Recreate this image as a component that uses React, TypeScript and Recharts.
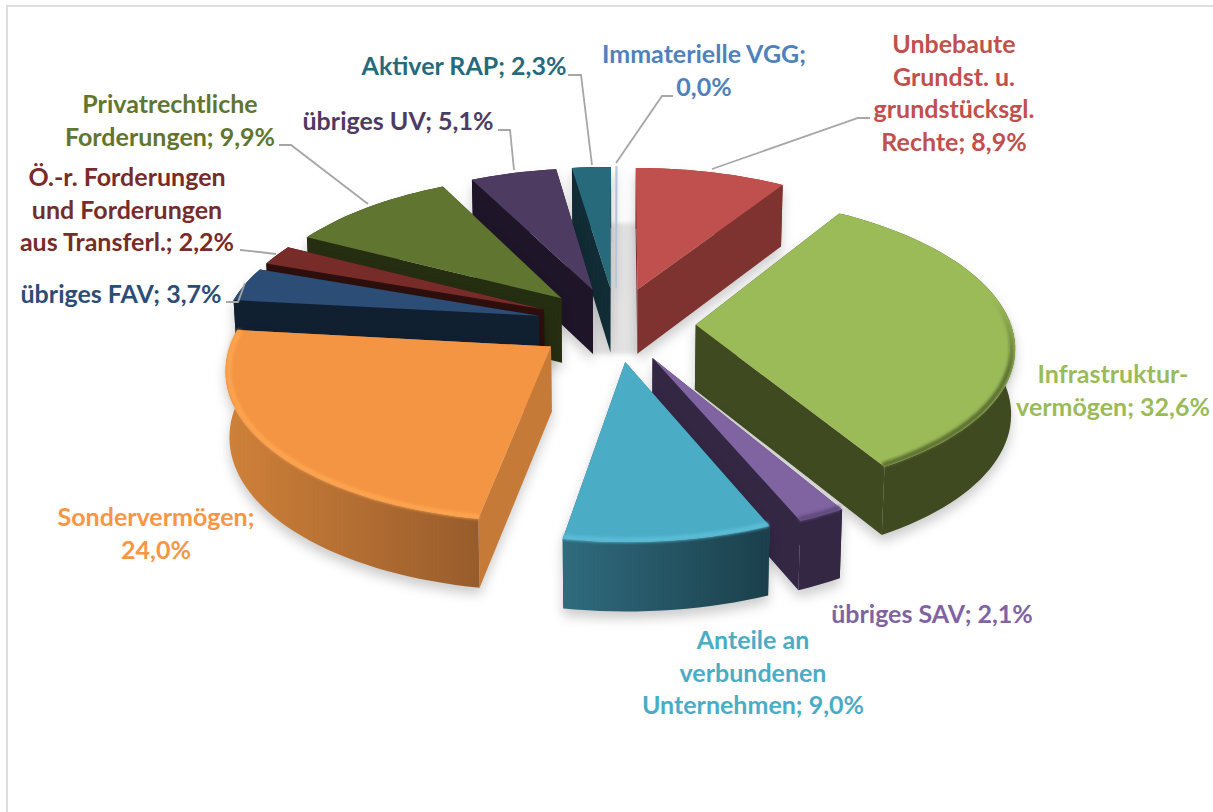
import React from 'react';
import { PieChart, Pie } from 'recharts';

// Slices are split in two groups so they paint back to front on both sides
const rightNames = ['Immaterielle VGG', 'Unbebaute Grundst.', 'Infrastrukturvermögen', 'übriges SAV', 'Anteile'];
const rightValues = [0.04, 8.9, 32.6, 2.1, 9.0];
const leftNames = ['Aktiver RAP', 'übriges UV', 'Privatrechtliche Forderungen', 'Ö.-r. Forderungen', 'übriges FAV', 'Sondervermögen'];
const leftValues = [2.3, 5.1, 9.9, 2.2, 3.7, 24.0];

const labelLines: Record<string, string[]> = {
  'Immaterielle VGG': ['Immaterielle VGG;', '0,0%'],
  'Unbebaute Grundst.': ['Unbebaute', 'Grundst. u.', 'grundstücksgl.', 'Rechte; 8,9%'],
  'Infrastrukturvermögen': ['Infrastruktur-', 'vermögen; 32,6%'],
  'übriges SAV': ['übriges SAV; 2,1%'],
  'Anteile': ['Anteile an', 'verbundenen', 'Unternehmen; 9,0%'],
  'Aktiver RAP': ['Aktiver RAP; 2,3%'],
  'übriges UV': ['übriges UV; 5,1%'],
  'Privatrechtliche Forderungen': ['Privatrechtliche', 'Forderungen; 9,9%'],
  'Ö.-r. Forderungen': ['Ö.-r. Forderungen', 'und Forderungen', 'aus Transferl.; 2,2%'],
  'übriges FAV': ['übriges FAV; 3,7%'],
  'Sondervermögen': ['Sondervermögen;', '24,0%'],
};

const styles: Record<string, any> = {
  'Immaterielle VGG': { top: '#b9cde5', wall: '#c9d6e6', text: '#4f81bd' },
  'Unbebaute Grundst.': { top: '#c0504d', wall: '#7f3331', text: '#c0504d' },
  'Infrastrukturvermögen': { top: '#9bbb59', wall: '#404a21', text: '#9bbb59', bevel: '#5c6e31', bevelWidth: 5, bevelFade: [300, 370] },
  'übriges SAV': { top: '#8064a2', wall: '#332744', text: '#8064a2', bevel: '#5f4a7c', bevelWidth: 5 },
  'Anteile': { top: '#4bacc6', wall: '#2b6475', rimA: '#2f6b7e', rimB: '#1b3f4b', text: '#4bacc6', bevel: '#5bbcd6', bevelWidth: 5 },
  'Aktiver RAP': { top: '#276a7c', wall: '#112c35', text: '#276a7c' },
  'übriges UV': { top: '#4d3b62', wall: '#1e1528', text: '#4d3b62' },
  'Privatrechtliche Forderungen': { top: '#5f7530', wall: '#262e12', text: '#5f7530' },
  'Ö.-r. Forderungen': { top: '#772c2a', wall: '#2d0f0e', text: '#772c2a' },
  'übriges FAV': { top: '#2c4d75', wall: '#112030', text: '#2c4d75' },
  'Sondervermögen': { top: '#f49543', wall: '#c57a37', rimA: '#cf8139', rimB: '#985c2c', text: '#f79646', bevel: '#fda44f', bevelWidth: 5 },
};

// label anchor (centre x, first baseline) and the leader line
const labelLayout: Record<string, { x: number; y: number; line?: number[][] }> = {
  'Immaterielle VGG': { x: 704, y: 63, line: [[673, 96], [662, 96], [616, 163]] },
  'Unbebaute Grundst.': { x: 954, y: 53, line: [[870, 118], [858, 118], [712, 169]] },
  'Infrastrukturvermögen': { x: 1113, y: 383 },
  'übriges SAV': { x: 932, y: 623 },
  'Anteile': { x: 753, y: 649 },
  'Aktiver RAP': { x: 464, y: 75, line: [[568, 75], [581, 75], [592, 165]] },
  'übriges UV': { x: 398, y: 130, line: [[498, 130], [510, 130], [514, 170]] },
  'Privatrechtliche Forderungen': { x: 170, y: 113, line: [[279, 145], [291, 145], [368, 204]] },
  'Ö.-r. Forderungen': { x: 127, y: 186, line: [[240, 250], [259, 252], [276, 254]] },
  'übriges FAV': { x: 121, y: 303, line: [[226, 302], [238, 302], [245, 283]] },
  'Sondervermögen': { x: 156, y: 526 },
};

const sum = (a: number[]) => a.reduce((s, v) => s + v, 0);
const total = sum(rightValues) + sum(leftValues);
const toRows = (names: string[], values: number[]) => names.map((name, i) => ({ name, value: values[i] }));

const RAD = Math.PI / 180;
const TILT = 0.463;
const PERSPECTIVE = 0.13;
const EXPLODE = 0.253;
const DEPTH = 65;

const d = (pts: number[][], close = false) =>
  'M' + pts.map((p) => `${p[0].toFixed(1)} ${p[1].toFixed(1)}`).join('L') + (close ? 'Z' : '');

// Tilted, exploded wedge built from the angles the Pie hands over
const Slice = (props: any) => {
  const { cx, cy, outerRadius: R, startAngle, endAngle, name, payload } = props;
  const key = name ?? payload?.name;
  const st = styles[key];
  const a = 90 - Math.max(startAngle, endAngle);
  const b = 90 - Math.min(startAngle, endAngle);
  const mid = ((a + b) / 2) * RAD;
  const ex = EXPLODE * Math.sin(mid);
  const ey = EXPLODE * Math.cos(mid);

  const top = (deg: number, r = 1) => {
    const u = ex + r * Math.sin(deg * RAD);
    const v = ey + r * Math.cos(deg * RAD);
    const den = 1 + PERSPECTIVE * v;
    return [cx + (R * u) / den, cy - (R * TILT * v) / den];
  };
  const low = (deg: number, r = 1) => {
    const p = top(deg, r);
    const v = ey + r * Math.cos(deg * RAD);
    const shrink = 1 + 0.4 * PERSPECTIVE * v;
    return [cx + (p[0] - cx) * 0.99, p[1] + DEPTH / shrink];
  };

  const steps = Math.max(2, Math.ceil((b - a) / 2));
  const angles = Array.from({ length: steps + 1 }, (_, i) => a + ((b - a) * i) / steps);
  const arcTop = angles.map((t) => top(t));
  const arcLow = angles.map((t) => low(t));
  const apex = top(a, 0);
  const apexLow = low(a, 0);
  const xs = arcTop.map((p) => p[0]);
  const gid = 'rim' + key.replace(/[^A-Za-z]/g, '');
  const thin = b - a < 1;
  const fade = st.bevelFade;
  const [ax, ay] = apex;

  return (
    <g>
      {/* soft grey patch that shows through the gap at the back */}
      {thin && (
        <path
          d={d([[ax - 26, ay - 65], [ax + 24, ay - 65], [ax + 24, ay + 66], [ax - 26, ay + 66]], true)}
          fill="#e3e3e3"
          style={{ filter: 'blur(2px)' }}
        />
      )}
      <g style={{ filter: 'drop-shadow(0 7px 6px rgba(0,0,0,0.2))' }}>
        <defs>
          <linearGradient id={gid} gradientUnits="userSpaceOnUse" x1={Math.min(...xs)} x2={Math.max(...xs)} y1="0" y2="0">
            <stop offset="0" stopColor={st.rimA ?? st.wall} />
            <stop offset="1" stopColor={st.rimB ?? st.wall} />
          </linearGradient>
          {fade && (
            <linearGradient id={gid + 'Bevel'} gradientUnits="userSpaceOnUse" x1="0" x2="0" y1={fade[0]} y2={fade[1]}>
              <stop offset="0" stopColor={st.bevel} stopOpacity={0} />
              <stop offset="1" stopColor={st.bevel} />
            </linearGradient>
          )}
        </defs>
        <path d={d([apex, arcTop[0], arcLow[0], apexLow], true)} fill={st.wall} />
        <path d={d([apex, arcTop[steps], arcLow[steps], apexLow], true)} fill={st.wall} />
        <path d={d([...arcTop, ...[...arcLow].reverse()], true)} fill={`url(#${gid})`} />
        <path
          d={d([apex, ...arcTop], true)}
          fill={st.top}
          stroke={thin ? st.top : 'none'}
          strokeWidth={thin ? 1.6 : 0}
        />
        {st.bevel && (
          <path
            d={d(angles.map((t) => top(t, 0.99)))}
            fill="none"
            stroke={fade ? `url(#${gid}Bevel)` : st.bevel}
            strokeWidth={st.bevelWidth}
            style={{ filter: 'blur(1.4px)' }}
          />
        )}
      </g>
    </g>
  );
};

const renderLabel = (props: any) => {
  const key = props.name ?? props.payload?.name;
  const pos = labelLayout[key];
  const st = styles[key];
  return (
    <g key={key}>
      {pos.line && <path d={d(pos.line)} fill="none" stroke="#a6a6a6" strokeWidth={1.8} />}
      <text
        x={pos.x}
        y={pos.y}
        textAnchor="middle"
        fill={st.text}
        fontFamily="Lato, sans-serif"
        fontWeight={700}
        fontSize={25}
      >
        {labelLines[key].map((line, i) => (
          <tspan key={i} x={pos.x} y={pos.y + i * 32.7}>
            {line}
          </tspan>
        ))}
      </text>
    </g>
  );
};

const App = () => {
  return (
    <div style={{ position: 'absolute', left: 0, top: 0, width: 1213, height: 812, background: '#fff', overflow: 'hidden' }}>
      <div
        style={{
          position: 'absolute',
          left: 6,
          top: 5,
          right: -4,
          bottom: -4,
          borderLeft: '2px solid #dedede',
          borderTop: '2px solid #dedede',
        }}
      />
      <div style={{ position: 'absolute', left: 0, top: 0 }}>
        <PieChart width={1213} height={812} margin={{ top: 0, right: 0, bottom: 0, left: 0 }}>
          <Pie
            data={toRows(rightNames, rightValues)}
            dataKey="value"
            nameKey="name"
            cx={616}
            cy={324}
            outerRadius={315}
            startAngle={90}
            endAngle={90 - (360 * sum(rightValues)) / total}
            stroke="none"
            shape={Slice}
            activeShape={Slice}
            inactiveShape={Slice}
            label={renderLabel}
            labelLine={false}
            isAnimationActive={false}
          />
          <Pie
            data={toRows(leftNames, leftValues)}
            dataKey="value"
            nameKey="name"
            cx={616}
            cy={324}
            outerRadius={315}
            startAngle={90}
            endAngle={90 + (360 * sum(leftValues)) / total}
            stroke="none"
            shape={Slice}
            activeShape={Slice}
            inactiveShape={Slice}
            label={renderLabel}
            labelLine={false}
            isAnimationActive={false}
          />
        </PieChart>
      </div>
    </div>
  );
};

export default App;
